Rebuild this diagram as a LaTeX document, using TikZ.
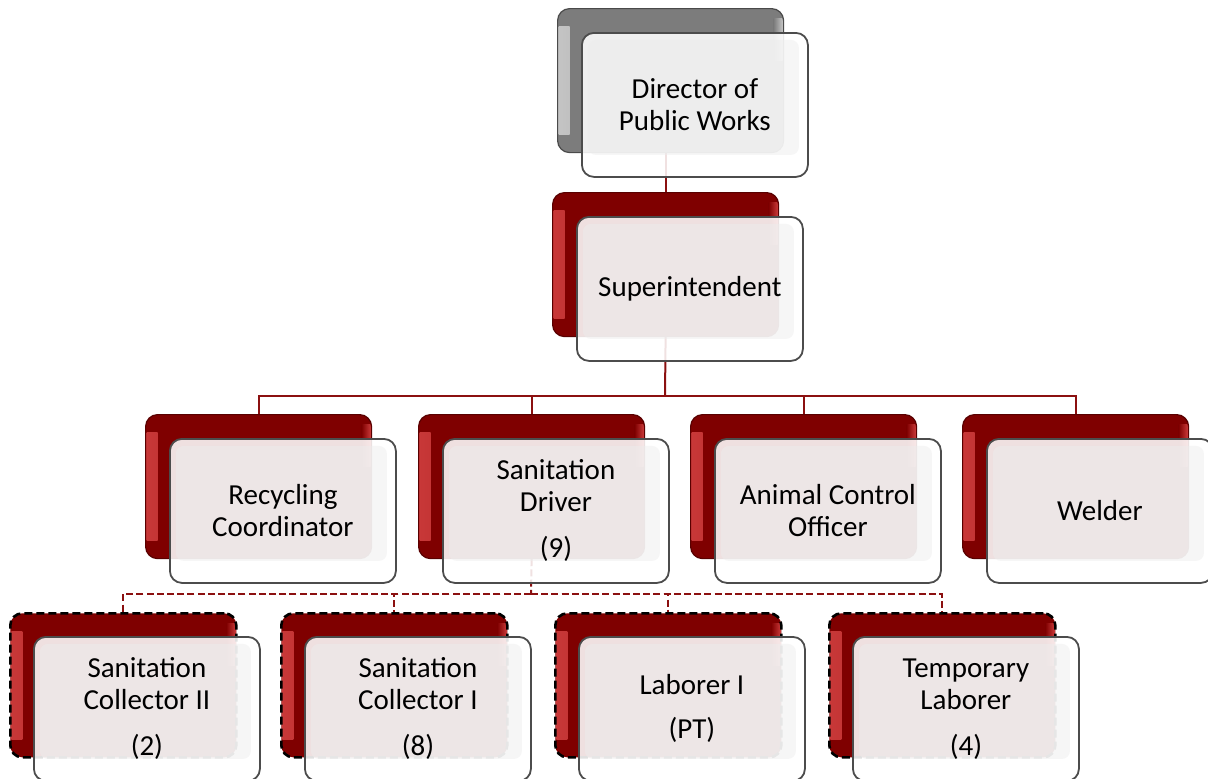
\documentclass[tikz,border=0pt]{standalone}
\usepackage{fontspec}
\setmainfont{Carlito}
\usetikzlibrary{calc,backgrounds}
\definecolor{dred}{HTML}{7F0000}
\definecolor{lred}{HTML}{C83838}
\definecolor{conn}{HTML}{8B1010}
\definecolor{dgray}{HTML}{7C7C7C}
\definecolor{lgray}{HTML}{C4C4C4}
\newcommand\orgunit[4]{%
  \node[#4, anchor=north west] (#1b) at (#2) {};
  \node[frontbox, anchor=north west] (#1) at ([xshift=12pt,yshift=-12pt]#1b.north west) {#3};
}
\tikzset{
  backbase/.style={rounded corners=6pt, minimum width=113pt, minimum height=72pt, inner sep=0pt, line width=0.6pt},
  redback/.style={backbase, fill=dred, draw=dred!70!black,
    path picture={
      \shade[sharp corners, left color=lred, right color=dred] ([shift={(0.5pt,-9pt)}]path picture bounding box.north west) rectangle ([shift={(6pt,9pt)}]path picture bounding box.south west);
      \shade[sharp corners, left color=dred, right color=lred] ([shift={(-5pt,-5pt)}]path picture bounding box.north east) rectangle ([shift={(-0.5pt,-26pt)}]path picture bounding box.north east);
    }},
  grayback/.style={backbase, fill=dgray, draw=dgray!60!black,
    path picture={
      \shade[sharp corners, left color=lgray, right color=dgray] ([shift={(0.5pt,-9pt)}]path picture bounding box.north west) rectangle ([shift={(6pt,9pt)}]path picture bounding box.south west);
      \shade[sharp corners, left color=dgray, right color=lgray] ([shift={(-5pt,-5pt)}]path picture bounding box.north east) rectangle ([shift={(-0.5pt,-26pt)}]path picture bounding box.north east);
    }},
  dashback/.style={redback, draw=black, line width=1.3pt, dash pattern=on 4pt off 2pt},
  frontbox/.style={rounded corners=6pt, minimum width=113pt, minimum height=72pt, inner sep=2pt,
    fill=white, fill opacity=0.88, text opacity=1, draw=black!70, line width=0.9pt,
    align=center, font=\fontsize{14.5}{16}\selectfont, text=black,
    path picture={\fill[black!7, fill opacity=0.5, rounded corners=4pt]
      ([shift={(3pt,-3.5pt)}]path picture bounding box.north west) rectangle
      ([shift={(-4.5pt,11pt)}]path picture bounding box.south east);}},
  sconn/.style={draw=conn, line width=1pt},
  dconn/.style={draw=conn, line width=1pt, dash pattern=on 3.5pt off 1.6pt},
}
\begin{document}
\begin{tikzpicture}[x=0.5pt,y=-0.5pt]
\useasboundingbox (0,0) rectangle (1208,778);
% level 0 and 1
\orgunit{dir}{557,8}{Director of\\Public Works}{grayback}
\orgunit{sup}{552,192}{Superintendent}{redback}
% level 2
\orgunit{rec}{145,414}{Recycling\\Coordinator}{redback}
\orgunit{drv}{418,414}{Sanitation\\Driver\\[7pt](9)}{redback}
\orgunit{ani}{690,414}{Animal Control\\Officer}{redback}
\orgunit{wel}{962,414}{Welder}{redback}
% level 3
\orgunit{coltwo}{9,612}{Sanitation\\Collector II\\[7pt](2)}{dashback}
\orgunit{colone}{280,612}{Sanitation\\Collector I\\[7pt](8)}{dashback}
\orgunit{lab}{554,612}{Laborer I\\[6pt](PT)}{dashback}
\orgunit{tmp}{828,612}{Temporary\\Laborer\\[7pt](4)}{dashback}
% connectors
\coordinate (bus1) at (665,396);
\coordinate (bus2) at (531,594);
\begin{scope}[on background layer]
  \draw[sconn] (supb.north) -- (supb.north |- dirb.south);
  \draw[sconn] (supb.south) -- (bus1);
  \draw[sconn] (bus1) -| (recb.north);
  \draw[sconn] (bus1) -| (drvb.north);
  \draw[sconn] (bus1) -| (anib.north);
  \draw[sconn] (bus1) -| (welb.north);
  \draw[dconn] (drvb.south) -- (bus2);
  \draw[dconn] (bus2) -| (coltwob.north);
  \draw[dconn] (bus2) -| (coloneb.north);
  \draw[dconn] (bus2) -| (labb.north);
  \draw[dconn] (bus2) -| (tmpb.north);
\end{scope}
\end{tikzpicture}
\end{document}
